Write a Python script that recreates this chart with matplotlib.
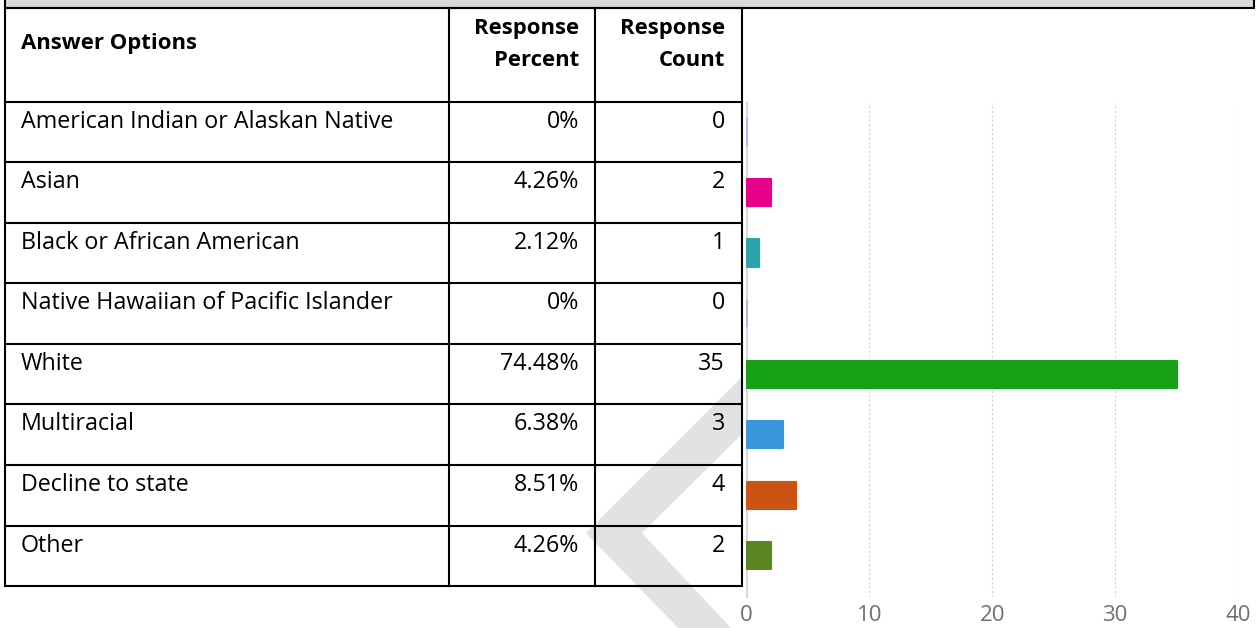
import matplotlib
matplotlib.use("Agg")
import matplotlib.pyplot as plt
from matplotlib.patches import Rectangle, Polygon

# survey data
answers = ["American Indian or Alaskan Native", "Asian", "Black or African American",
           "Native Hawaiian of Pacific Islander", "White", "Multiracial",
           "Decline to state", "Other"]
percents = [0, 4.26, 2.12, 0, 74.48, 6.38, 8.51, 4.26]
counts = [0, 2, 1, 0, 35, 3, 4, 2]
bar_colors = ["#aebcf2", "#e6008a", "#2ca5aa", "#bcb0e6",
              "#17a117", "#3a97de", "#cc5313", "#5b8522"]
x_ticks = [0, 10, 20, 30, 40]

W, H = 1259, 628
fig = plt.figure(figsize=(W / 100, H / 100), dpi=100)
fig.patch.set_facecolor("white")
renderer = fig.canvas.get_renderer()

# table drawn in pixel coordinates
tab = fig.add_axes([0, 0, 1, 1])
tab.set_xlim(0, W)
tab.set_ylim(H, 0)
tab.axis("off")

font = "Open Sans"


def fit_size(txt, target, weight="normal"):
    # pick a font size so that txt is target pixels wide
    t = tab.text(0, 0, txt, fontsize=10, family=font, fontweight=weight)
    w = t.get_window_extent(renderer).width
    t.remove()
    return 10 * target / w


body_fs = fit_size(answers[0], 372)
head_fs = fit_size("Answer Options", 176, "bold")

lw = 1.5
left, c1, c2, right = 5.5, 449, 595, 742
top, head_bot, row_h = 8.3, 101.7, 60.55
n = len(answers)
row_tops = [head_bot + i * row_h for i in range(n + 1)]

# watermark chevron
tab.add_patch(Polygon([(586, 533), (741, 378), (741, 435), (642, 533),
                       (731, 628), (678, 628)], closed=True,
                      facecolor="#e2e2e2", edgecolor="none", zorder=0))

# gray strip on top
tab.add_patch(Rectangle((left, -10), 1254.5 - left, top + 10, facecolor="#d9d9d9",
                        edgecolor="black", lw=lw, zorder=2))

for y in [top, head_bot] + row_tops[1:]:
    tab.plot([left, right], [y, y], color="black", lw=lw, zorder=3,
             solid_capstyle="projecting")
for x in [left, c1, c2, right]:
    tab.plot([x, x], [top, row_tops[-1]], color="black", lw=lw, zorder=3,
             solid_capstyle="projecting")

# header
hkw = dict(fontsize=head_fs, fontweight="bold", family=font, color="black",
           va="baseline", zorder=4)
tab.text(21, 49.5, "Answer Options", ha="left", **hkw)
tab.text(579, 34, "Response", ha="right", **hkw)
tab.text(579, 66, "Percent", ha="right", **hkw)
tab.text(725, 34, "Response", ha="right", **hkw)
tab.text(725, 66, "Count", ha="right", **hkw)

bkw = dict(fontsize=body_fs, family=font, color="black", va="baseline", zorder=4)
for i in range(n):
    yb = row_tops[i] + 26
    tab.text(21, yb, answers[i], ha="left", **bkw)
    p = percents[i]
    ptxt = "0%" if p == 0 else f"{p:.2f}%"
    tab.text(579, yb, ptxt, ha="right", **bkw)
    tab.text(725, yb, str(counts[i]), ha="right", **bkw)

# bar chart aligned to table rows
x0, x40 = 746.5, 1238
ytop, ybot = 103, 597
ax = fig.add_axes([x0 / W, 1 - ybot / H, (x40 - x0) / W, (ybot - ytop) / H], zorder=5)
ax.set_facecolor("none")
ax.set_xlim(0, 40)
c0 = head_bot + row_h / 2
ax.set_ylim((ybot - c0) / row_h, (ytop - c0) / row_h)

ax.barh(range(n), counts, height=0.45, color=bar_colors, edgecolor=bar_colors,
        linewidth=1.5, joinstyle="round", zorder=3, clip_on=False)

ax.set_xticks(x_ticks)
ax.set_yticks([])
ax.grid(axis="x", color="#d2d2d2", lw=0.8, linestyle=(0, (2, 2)), zorder=0)
for s in ["top", "right", "bottom"]:
    ax.spines[s].set_visible(False)
ax.spines["left"].set_color("#d9d9d9")
ax.spines["left"].set_linewidth(1.5)
ax.spines["left"].set_zorder(2)
ax.tick_params(axis="x", length=0, pad=6, labelsize=16, labelcolor="#707070")
for lab in ax.get_xticklabels():
    lab.set_family(font)

plt.savefig("out.png", dpi=100)
